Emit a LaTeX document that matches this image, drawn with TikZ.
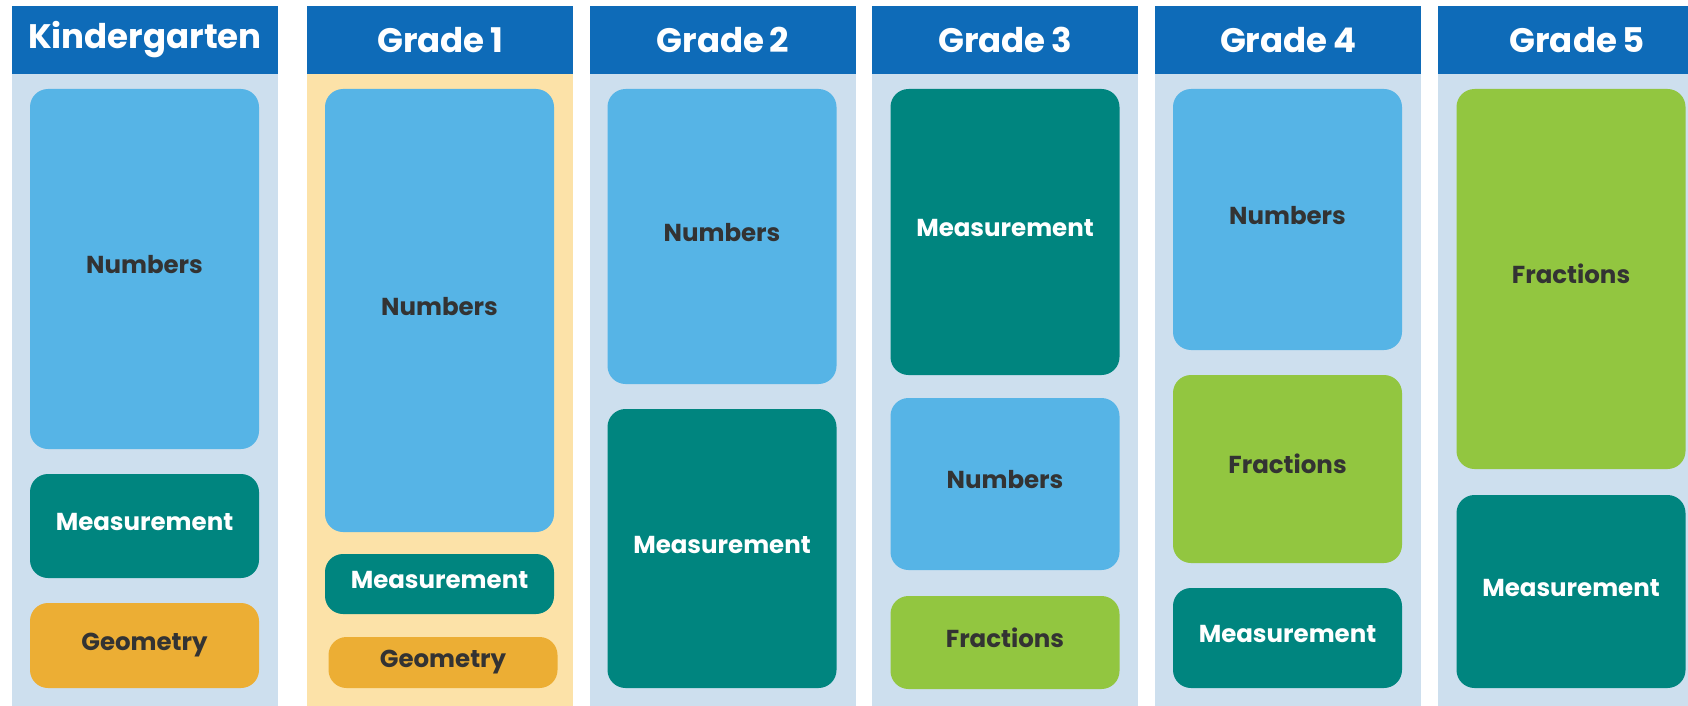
\documentclass[tikz,border=0pt]{standalone}
\usepackage{fontspec}
\setmainfont{Poppins}[Numbers=Proportional, WordSpace=0.75]
\usetikzlibrary{positioning}

\definecolor{headblue}{HTML}{0E6BB8}
\definecolor{panelblue}{HTML}{CDDFEE}
\definecolor{panelsand}{HTML}{FCE2A8}
\definecolor{numblue}{HTML}{56B4E6}
\definecolor{measteal}{HTML}{00857F}
\definecolor{geomgold}{HTML}{ECAE34}
\definecolor{fracgreen}{HTML}{92C640}
\definecolor{inkgrey}{HTML}{333333}

\tikzset{
  gradehead/.style={fill=headblue, text=white, inner sep=0pt, outer sep=0pt,
    minimum width=266, minimum height=68,
    font=\fontsize{34}{40}\selectfont\bfseries},
  topic/.style={rounded corners=18pt, inner sep=0pt, outer sep=0pt,
    minimum width=229, text height=18pt, text depth=9pt,
    font=\fontsize{24.5}{30}\selectfont\bfseries},
  numbers/.style={topic, fill=numblue, text=inkgrey},
  measure/.style={topic, fill=measteal, text=white},
  geometry/.style={topic, fill=geomgold, text=inkgrey},
  fractions/.style={topic, fill=fracgreen, text=inkgrey}
}

\begin{document}
\begin{tikzpicture}[x=1pt, y=-1pt]
  \useasboundingbox (0,0) rectangle (1688,706);
  \clip (0,0) rectangle (1688,706);

  % column backgrounds
  \fill[panelblue] (12,6) rectangle (278,706);
  \fill[panelsand] (307,6) rectangle (573,706);
  \fill[panelblue] (590,6) rectangle (856,706);
  \fill[panelblue] (872,6) rectangle (1138,706);
  \fill[panelblue] (1155,6) rectangle (1421,706);
  \fill[panelblue] (1438,6) rectangle (1716,706);

  % headers
  \node[gradehead] (hk) at (145,40) {Kindergarten};
  \node[gradehead] (h1) at (440,40) {Grade 1};
  \node[gradehead] (h2) at (723,40) {Grade 2};
  \node[gradehead] (h3) at (1005,40) {Grade 3};
  \node[gradehead] (h4) at (1288,40) {Grade 4};
  \node[gradehead, minimum width=278] (h5) at (1577,40) {Grade 5};

  % Kindergarten
  \node[numbers, minimum height=360] (kNum) at (144.5,269) {Numbers};
  \node[measure, minimum height=104] (kMeas) at (144.5,526) {Measurement};
  \node[geometry, minimum height=85] (kGeo) at (144.5,645.5) {Geometry};

  % Grade 1
  \node[numbers, minimum height=443] (aNum) at (439.5,310.5) {Numbers};
  \node[measure, minimum height=60] (aMeas) at (439.5,584) {Measurement};
  \node[geometry, minimum height=51] (aGeo) at (443,662.5) {Geometry};

  % Grade 2
  \node[numbers, minimum height=295] (bNum) at (722,236.5) {Numbers};
  \node[measure, minimum height=279] (bMeas) at (722,548.5) {Measurement};

  % Grade 3
  \node[measure, minimum height=286] (cMeas) at (1005,232) {Measurement};
  \node[numbers, minimum height=172] (cNum) at (1005,484) {Numbers};
  \node[fractions, minimum height=93] (cFrac) at (1005,642.5) {Fractions};

  % Grade 4
  \node[numbers, minimum height=261] (dNum) at (1287.5,219.5) {Numbers};
  \node[fractions, minimum height=188] (dFrac) at (1287.5,469) {Fractions};
  \node[measure, minimum height=100] (dMeas) at (1287.5,638) {Measurement};

  % Grade 5
  \node[fractions, minimum height=380] (eFrac) at (1571,279) {Fractions};
  \node[measure, minimum height=193] (eMeas) at (1571,591.5) {Measurement};
\end{tikzpicture}
\end{document}
